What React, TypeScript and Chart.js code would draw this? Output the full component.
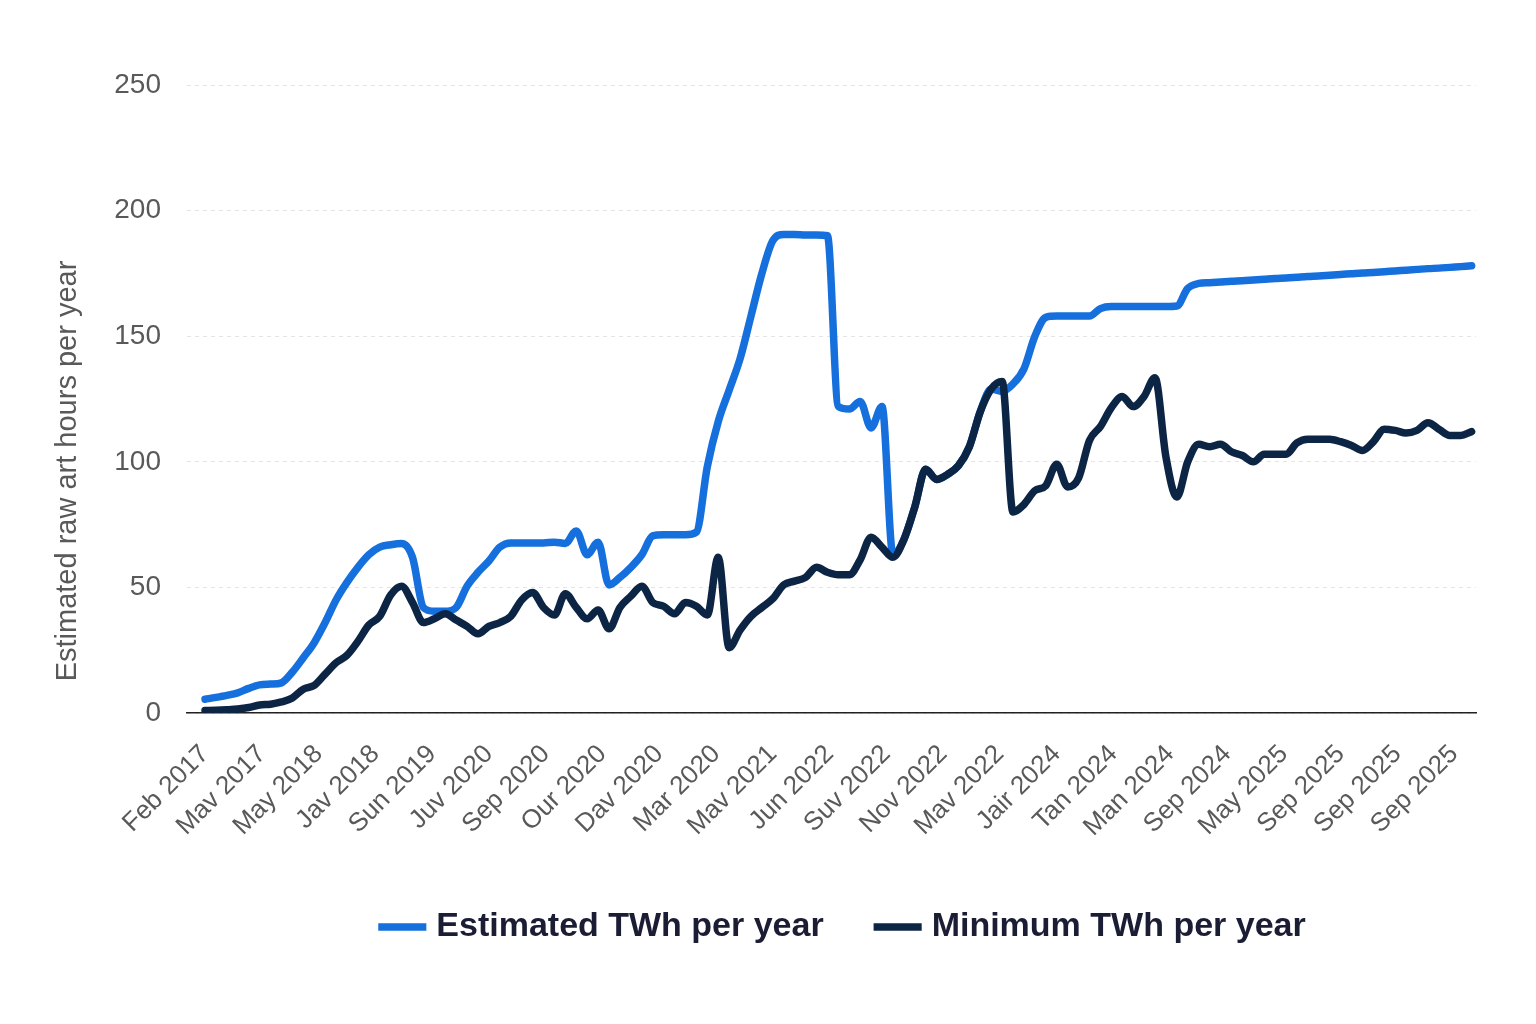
import { useEffect, useRef } from "react"
import { Chart, registerables, type ChartConfiguration, type Plugin } from "chart.js"

Chart.register(...registerables)

// tick labels along the bottom, one every TICK_STEP points
const tickLabels = [
  "Feb 2017", "Mav 2017", "May 2018", "Jav 2018", "Sun 2019", "Juv 2020",
  "Sep 2020", "Our 2020", "Dav 2020", "Mar 2020", "Mav 2021", "Jun 2022",
  "Suv 2022", "Nov 2022", "Mav 2022", "Jair 2024", "Tan 2024", "Man 2024",
  "Sep 2024", "May 2025", "Sep 2025", "Sep 2025", "Sep 2025",
]
const TICK_STEP = 5.2

const estimated = [
  5.5, 6.2, 7, 8, 9.8, 11.2, 11.5, 12, 16.3, 22,
  28, 36, 45, 52, 58, 63, 66, 67, 67.5, 62,
  42, 40.5, 40.5, 42, 50.5, 56, 60.5, 66, 67.7, 67.7,
  67.7, 67.7, 68, 67.5, 72.5, 63, 68, 51, 54, 58,
  63, 70.5, 71, 71, 71, 72, 98, 116, 128.5, 141,
  158, 175, 188, 190.5, 190.5, 190.3, 190.3, 190, 122, 121,
  124, 113.5, 122, 63, 69, 82, 97, 93, 95, 98.5,
  106, 120, 129, 128, 131, 137, 150, 157.5, 158, 158,
  158, 158, 161, 161.8, 161.8, 161.8, 161.8, 161.8, 161.8, 162,
  169, 171, 171.3, 171.6, 171.9, 172.1, 172.4, 172.7, 173, 173.2,
  173.5, 173.8, 174, 174.3, 174.6, 174.9, 175.2, 175.4, 175.7, 176,
  176.3, 176.6, 176.9, 177.1, 177.4, 177.7, 178,
]

const minimum = [
  1, 1.1, 1.3, 1.6, 2.2, 3.2, 3.5, 4.4, 6, 9.5,
  11, 15.5, 20, 23, 28.5, 35, 38.5, 47, 50.5, 44,
  36, 37.5, 39.5, 37, 34.5, 31.5, 34.5, 36, 38.5, 45,
  48, 42, 39, 47.5, 42, 37.5, 41, 33.5, 42, 46.5,
  50.5, 44, 42.5, 39.5, 44, 42.5, 39, 62, 26, 33,
  38.5, 42, 45.5, 51, 52.5, 54, 58, 56, 55, 55,
  61, 70, 66, 62, 69, 82, 97, 93, 95, 98.5,
  106, 120, 129, 132, 80, 83, 88.5, 90.5, 99, 90,
  93.5, 108.5, 114, 121.5, 126, 122, 126, 133.5, 102, 86,
  100, 107, 106, 107, 104, 102.5, 100, 103, 103, 103,
  107.5, 109, 109, 109, 108, 106.5, 104.5, 108, 113, 112.5,
  111.5, 112.5, 115.5, 113, 110.5, 110.5, 112,
]

const yTitle = "Estimated raw art hours per year"
const FONT = '"Liberation Sans", Arial, Helvetica, sans-serif'
const GREY = "#595959"

// the axis title sits lower than the middle of the axis, so draw it by hand
const yTitlePlugin: Plugin<"line"> = {
  id: "yTitle",
  afterDraw(chart) {
    const { ctx, chartArea } = chart
    ctx.save()
    ctx.translate(chartArea.left - 119, chartArea.bottom - 242)
    ctx.rotate(-Math.PI / 2)
    ctx.font = `29px ${FONT}`
    ctx.fillStyle = GREY
    ctx.textAlign = "center"
    ctx.textBaseline = "middle"
    ctx.fillText(yTitle, 0, 0)
    ctx.restore()
  },
}

// legend in the original sits a little right of the plot centre
const legendShift: Plugin<"line"> = {
  id: "legendShift",
  afterLayout(chart: any) {
    if (!chart.legend) return
    chart.legend.left += 14
    chart.legend.right += 14
  },
}

export default function App() {
  const canvasRef = useRef<HTMLCanvasElement>(null)

  useEffect(() => {
    if (!canvasRef.current) return
    Chart.defaults.font.family = FONT

    const config: ChartConfiguration<"line"> = {
      type: "line",
      data: {
        datasets: [
          {
            label: "Estimated TWh per year",
            data: estimated.map((y, i) => ({ x: i, y })),
            borderColor: "#156fdc",
            backgroundColor: "#156fdc",
            borderWidth: 7.5,
            borderCapStyle: "round",
            borderJoinStyle: "round",
            pointRadius: 0,
            cubicInterpolationMode: "monotone",
            order: 2,
          },
          {
            label: "Minimum TWh per year",
            data: minimum.map((y, i) => ({ x: i, y })),
            borderColor: "#0d2545",
            backgroundColor: "#0d2545",
            borderWidth: 7.5,
            borderCapStyle: "round",
            borderJoinStyle: "round",
            pointRadius: 0,
            cubicInterpolationMode: "monotone",
            order: 1,
          },
        ],
      },
      options: {
        animation: false,
        responsive: true,
        maintainAspectRatio: false,
        layout: { padding: { top: 85, right: 60, bottom: 70, left: 0 } },
        scales: {
          x: {
            type: "linear",
            min: -1.65,
            max: 116.4,
            grid: { display: false },
            border: { display: true, color: "#222222", width: 1.5 },
            afterFit: (scale) => {
              scale.height = 140
            },
            ticks: {
              stepSize: TICK_STEP,
              includeBounds: false,
              autoSkip: false,
              minRotation: 45,
              maxRotation: 45,
              padding: 18,
              color: GREY,
              font: { size: 26 },
              callback: (value) => tickLabels[Math.round(Number(value) / TICK_STEP)] ?? "",
            },
          },
          y: {
            min: 0,
            max: 250,
            grid: { color: "#e4e4e4", lineWidth: 1, drawTicks: false },
            border: { display: false, dash: [4, 4] },
            afterFit: (scale) => {
              scale.width = 187
            },
            ticks: {
              stepSize: 50,
              padding: 26,
              color: GREY,
              font: { size: 28 },
            },
          },
        },
        plugins: {
          tooltip: { enabled: false },
          legend: {
            position: "bottom",
            fullSize: false,
            labels: {
              usePointStyle: true,
              pointStyle: "line",
              padding: 57,
              color: "#1a1d33",
              font: { size: 34, weight: "bold" },
              sort: (a, b) => (a.datasetIndex ?? 0) - (b.datasetIndex ?? 0),
            },
          },
        },
      },
      plugins: [yTitlePlugin, legendShift],
    }

    const chart = new Chart(canvasRef.current, config)
    return () => chart.destroy()
  }, [])

  return (
    <div style={{ position: "fixed", left: 0, top: 0, width: 1536, height: 1024, background: "#ffffff" }}>
      <canvas ref={canvasRef} />
    </div>
  )
}
